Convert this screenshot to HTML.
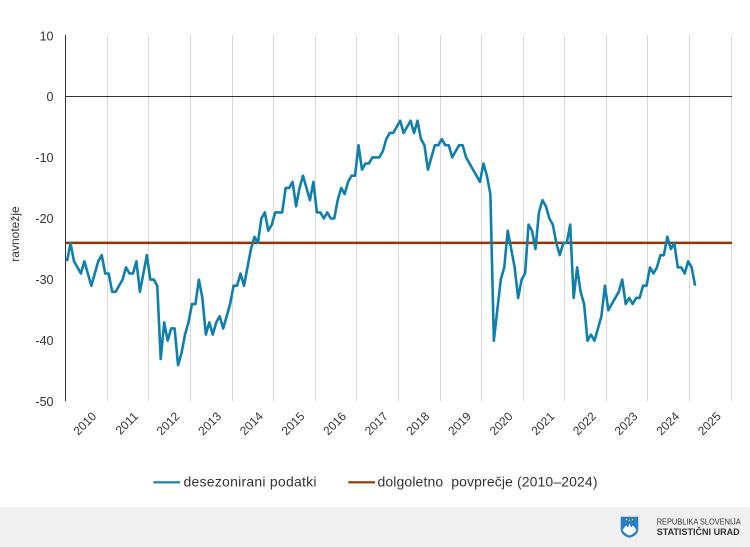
<!DOCTYPE html>
<html><head><meta charset="utf-8"><style>
html,body{margin:0;padding:0;background:#fff;}
svg{display:block;font-family:"Liberation Sans",Arial,sans-serif;}
</style></head><body>
<svg width="750" height="547" viewBox="0 0 750 547" xmlns="http://www.w3.org/2000/svg">
<rect x="0" y="0" width="750" height="547" fill="#fff"/>
<g stroke="#d9d9d9" stroke-width="1">
<line x1="107.5" y1="35" x2="107.5" y2="401"/>
<line x1="148.5" y1="35" x2="148.5" y2="401"/>
<line x1="190.5" y1="35" x2="190.5" y2="401"/>
<line x1="232.5" y1="35" x2="232.5" y2="401"/>
<line x1="273.5" y1="35" x2="273.5" y2="401"/>
<line x1="315.5" y1="35" x2="315.5" y2="401"/>
<line x1="356.5" y1="35" x2="356.5" y2="401"/>
<line x1="398.5" y1="35" x2="398.5" y2="401"/>
<line x1="440.5" y1="35" x2="440.5" y2="401"/>
<line x1="481.5" y1="35" x2="481.5" y2="401"/>
<line x1="523.5" y1="35" x2="523.5" y2="401"/>
<line x1="564.5" y1="35" x2="564.5" y2="401"/>
<line x1="606.5" y1="35" x2="606.5" y2="401"/>
<line x1="647.5" y1="35" x2="647.5" y2="401"/>
<line x1="689.5" y1="35" x2="689.5" y2="401"/>
<line x1="731.5" y1="35" x2="731.5" y2="401"/>
</g>
<line x1="65" y1="96.5" x2="732" y2="96.5" stroke="#333" stroke-width="1"/>
<line x1="65.5" y1="35" x2="65.5" y2="401" stroke="#333" stroke-width="1"/>
<line x1="65.5" y1="242.9" x2="732" y2="242.9" stroke="#993300" stroke-width="2.5"/>
<polyline fill="none" stroke="#107fab" stroke-width="2.6" stroke-linejoin="round" vector-effect="non-scaling-stroke"
transform="matrix(3.47 0 0 6.11 67.035 96.3)"
points="0,27 1,24 2,27 3,28 4,29 5,27 6,29 7,31 8,29 9,27 10,26 11,29 12,29 13,32 14,32 15,31 16,30 17,28 18,29 19,29 20,27 21,32 22,29 23,26 24,30 25,30 26,31 27,43 28,37 29,40 30,38 31,38 32,44 33,42 34,39 35,37 36,34 37,34 38,30 39,33 40,39 41,37 42,39 43,37 44,36 45,38 46,36 47,34 48,31 49,31 50,29 51,31 52,28 53,25 54,23 55,24 56,20 57,19 58,22 59,21 60,19 61,19 62,19 63,15 64,15 65,14 66,18 67,15 68,13 69,15 70,17 71,14 72,19 73,19 74,20 75,19 76,20 77,20 78,17 79,15 80,16 81,14 82,13 83,13 84,8 85,12 86,11 87,11 88,10 89,10 90,10 91,9 92,7 93,6 94,6 95,5 96,4 97,6 98,5 99,4 100,6 101,4 102,7 103,8 104,12 105,10 106,8 107,8 108,7 109,8 110,8 111,10 112,9 113,8 114,8 115,10 116,11 117,12 118,13 119,14 120,11 121,13 122,16 123,40 124,35 125,30 126,28 127,22 128,25 129,28 130,33 131,30 132,29 133,21 134,22 135,25 136,19 137,17 138,18 139,20 140,21 141,24 142,26 143,24 144,24 145,21 146,33 147,28 148,32 149,34 150,40 151,39 152,40 153,38 154,36 155,31 156,35 157,34 158,33 159,32 160,30 161,34 162,33 163,34 164,33 165,33 166,31 167,31 168,28 169,29 170,28 171,26 172,26 173,23 174,25 175,24 176,28 177,28 178,29 179,27 180,28 181,31"/>
<g fill="#333" font-size="12.5" text-anchor="end">
<text x="53.5" y="40.5">10</text>
<text x="53.5" y="101">0</text>
<text x="53.5" y="162">-10</text>
<text x="53.5" y="223">-20</text>
<text x="53.5" y="284">-30</text>
<text x="53.5" y="345">-40</text>
<text x="53.5" y="406">-50</text>
</g>
<text x="0" y="0" fill="#333" font-size="12" text-anchor="middle" transform="translate(19 234) rotate(-90)">ravnotežje</text>
<g fill="#333" font-size="12" text-anchor="end">
<text x="97.1" y="417" transform="rotate(-45 97.1 417)">2010</text>
<text x="138.8" y="417" transform="rotate(-45 138.8 417)">2011</text>
<text x="180.4" y="417" transform="rotate(-45 180.4 417)">2012</text>
<text x="222" y="417" transform="rotate(-45 222 417)">2013</text>
<text x="263.7" y="417" transform="rotate(-45 263.7 417)">2014</text>
<text x="305.3" y="417" transform="rotate(-45 305.3 417)">2015</text>
<text x="347" y="417" transform="rotate(-45 347 417)">2016</text>
<text x="388.6" y="417" transform="rotate(-45 388.6 417)">2017</text>
<text x="430.2" y="417" transform="rotate(-45 430.2 417)">2018</text>
<text x="471.9" y="417" transform="rotate(-45 471.9 417)">2019</text>
<text x="513.5" y="417" transform="rotate(-45 513.5 417)">2020</text>
<text x="555.2" y="417" transform="rotate(-45 555.2 417)">2021</text>
<text x="596.8" y="417" transform="rotate(-45 596.8 417)">2022</text>
<text x="638.4" y="417" transform="rotate(-45 638.4 417)">2023</text>
<text x="680.1" y="417" transform="rotate(-45 680.1 417)">2024</text>
<text x="721.7" y="417" transform="rotate(-45 721.7 417)">2025</text>
</g>
<line x1="153.3" y1="482.3" x2="180" y2="482.3" stroke="#107fab" stroke-width="2.2"/>
<text x="183.5" y="486.5" fill="#333" font-size="14" textLength="133" lengthAdjust="spacing">desezonirani podatki</text>
<line x1="348.3" y1="482.3" x2="375" y2="482.3" stroke="#993300" stroke-width="2.2"/>
<text x="377.5" y="486.5" fill="#333" font-size="14" textLength="220" lengthAdjust="spacing" xml:space="preserve">dolgoletno  povprečje (2010–2024)</text>
<rect x="0" y="507" width="750" height="40" fill="#f0f0f0"/>
<path d="M620.7 516.7 L638.3 516.7 L638.3 529 Q638.3 535.5 629.5 537.7 Q620.7 535.5 620.7 529 Z" fill="#2a7fc4"/>
<path d="M622.5 530 L626 525.5 L628 527.5 L629.5 523.5 L631 527.5 L633 525.5 L636.5 530 Q634 534 629.5 535.5 Q625 534 622.5 530 Z" fill="#fff"/>
<circle cx="626.5" cy="519.5" r="0.8" fill="#ffd700"/>
<circle cx="629.5" cy="520.5" r="0.8" fill="#ffd700"/>
<circle cx="632.5" cy="519.5" r="0.8" fill="#ffd700"/>
<text x="656.7" y="524.3" fill="#333" font-size="8.3" textLength="84" lengthAdjust="spacingAndGlyphs">REPUBLIKA SLOVENIJA</text>
<text x="656.7" y="535" fill="#333" font-size="9.5" font-weight="bold" textLength="83" lengthAdjust="spacingAndGlyphs">STATISTIČNI URAD</text>
</svg>
</body></html>
